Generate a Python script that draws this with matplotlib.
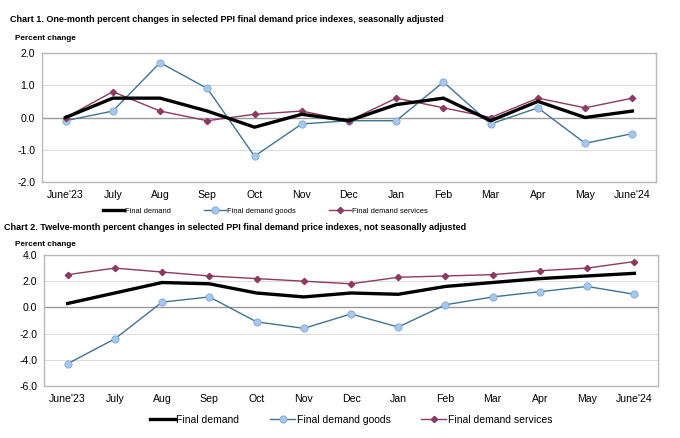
import matplotlib
matplotlib.use("Agg")
import matplotlib.pyplot as plt
from matplotlib.lines import Line2D

plt.rcParams['font.family'] = ['Liberation Sans', 'DejaVu Sans']

months = ["June'23", "July", "Aug", "Sep", "Oct", "Nov", "Dec",
          "Jan", "Feb", "Mar", "Apr", "May", "June'24"]

c1_final = [0.0, 0.6, 0.6, 0.2, -0.3, 0.1, -0.1, 0.4, 0.6, -0.1, 0.5, 0.0, 0.2]
c1_goods = [-0.1, 0.2, 1.7, 0.9, -1.2, -0.2, -0.1, -0.1, 1.1, -0.2, 0.3, -0.8, -0.5]
c1_services = [0.0, 0.8, 0.2, -0.1, 0.1, 0.2, -0.1, 0.6, 0.3, 0.0, 0.6, 0.3, 0.6]

c2_final = [0.3, 1.1, 1.9, 1.8, 1.1, 0.8, 1.1, 1.0, 1.6, 1.9, 2.2, 2.4, 2.6]
c2_goods = [-4.3, -2.4, 0.4, 0.8, -1.1, -1.6, -0.5, -1.5, 0.2, 0.8, 1.2, 1.6, 1.0]
c2_services = [2.5, 3.0, 2.7, 2.4, 2.2, 2.0, 1.8, 2.3, 2.4, 2.5, 2.8, 3.0, 3.5]

titles = ["Chart 1. One-month percent changes in selected PPI final demand price indexes, seasonally adjusted",
          "Chart 2. Twelve-month percent changes in selected PPI final demand price indexes, not seasonally adjusted"]
series_names = ["Final demand", "Final demand goods", "Final demand services"]

W, H = 680, 438
fig = plt.figure(figsize=(6.8, 4.38), dpi=100)

GOODS_LINE = '#3f7490'
GOODS_FACE = '#a6c8ee'
SERV = '#8c3a63'


def px_axes(x0, y0, x1, y1):
    return fig.add_axes([x0 / W, 1 - y1 / H, (x1 - x0) / W, (y1 - y0) / H])


def draw(ax, final, goods, services, ylim, yticks):
    x = list(range(len(months)))
    ax.plot(x, final, color='black', lw=2.4, zorder=4, solid_joinstyle='miter')
    ax.plot(x, goods, color=GOODS_LINE, lw=1.0, marker='o', ms=5.2,
            mfc=GOODS_FACE, mec='#7fa6d0', mew=0.6, zorder=3)
    ax.plot(x, services, color=SERV, lw=1.0, marker='D', ms=3.2,
            mfc=SERV, mec=SERV, zorder=3)
    ax.set_xlim(-0.5, len(months) - 0.5)
    ax.set_ylim(*ylim)
    ax.set_yticks(yticks)
    ax.set_yticklabels([f"{v:.1f}" for v in yticks])
    ax.set_xticks(x)
    ax.set_xticklabels(months)
    ax.tick_params(length=0, labelsize=7.6, colors='black')
    ax.tick_params(axis='x', pad=6)
    ax.tick_params(axis='y', pad=5)
    for v in yticks:
        if v != 0:
            ax.axhline(v, color='#dcdcdc', lw=0.8, zorder=1)
    ax.axhline(0, color='#9a9a9a', lw=1.0, zorder=2)
    for s in ax.spines.values():
        s.set_color('#b8b8b8')
        s.set_linewidth(1.0)


handles = [
    Line2D([], [], color='black', lw=2.4),
    Line2D([], [], color=GOODS_LINE, lw=1.0, marker='o', ms=5.2, mfc=GOODS_FACE, mec='#7fa6d0', mew=0.6),
    Line2D([], [], color=SERV, lw=1.0, marker='D', ms=3.2, mfc=SERV, mec=SERV),
]

# Chart 1
ax1 = px_axes(42, 53, 656, 182)
draw(ax1, c1_final, c1_goods, c1_services, (-2, 2), [-2, -1, 0, 1, 2])
fig.text(10 / W, 1 - 20 / H, titles[0], weight='bold',
         fontsize=6.45, va='center', ha='left')
fig.text(15 / W, 1 - 38 / H, "Percent change", weight='bold',
         fontsize=5.9, va='center', ha='left')
fig.legend(handles, series_names, loc='center', bbox_to_anchor=(265 / W, 1 - 211 / H),
           ncol=3, frameon=False, handlelength=2.9, handletextpad=0.15,
           columnspacing=4.4, prop={'family': 'Liberation Sans', 'size': 5.4})

# Chart 2
ax2 = px_axes(44, 255, 658, 386)
draw(ax2, c2_final, c2_goods, c2_services, (-6, 4), [-6, -4, -2, 0, 2, 4])
fig.text(4 / W, 1 - 228 / H, titles[1], weight='bold',
         fontsize=6.45, va='center', ha='left')
fig.text(15 / W, 1 - 244 / H, "Percent change", weight='bold',
         fontsize=5.9, va='center', ha='left')
fig.legend(handles, series_names, loc='center', bbox_to_anchor=(351 / W, 1 - 420 / H),
           ncol=3, frameon=False, handlelength=2.4, handletextpad=0.15,
           columnspacing=3.0, prop={'family': 'Liberation Sans', 'size': 7.45})

fig.savefig('out.png', dpi=100, facecolor='white')
